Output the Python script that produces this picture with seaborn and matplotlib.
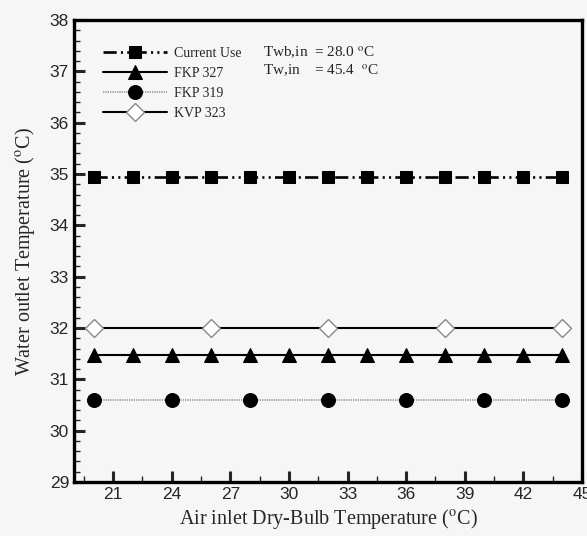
import pandas as pd
import matplotlib
matplotlib.use("Agg")
import matplotlib.pyplot as plt
import seaborn as sns
from matplotlib.ticker import MultipleLocator

# series
current_x = [20, 22, 24, 26, 28, 30, 32, 34, 36, 38, 40, 42, 44]
current_y = [34.95] * 13
fkp327_x = [20, 22, 24, 26, 28, 30, 32, 34, 36, 38, 40, 42, 44]
fkp327_y = [31.47] * 13
fkp319_x = [20, 24, 28, 32, 36, 40, 44]
fkp319_y = [30.6] * 7
kvp323_x = [20, 26, 32, 38, 44]
kvp323_y = [32.0] * 5

labels = ["Current Use", "FKP 327", "FKP 319", "KVP 323"]
x_ticks = [21, 24, 27, 30, 33, 36, 39, 42, 45]
y_ticks = [29, 30, 31, 32, 33, 34, 35, 36, 37, 38]

sns.set_style("ticks")
plt.rcParams["mathtext.fontset"] = "stix"
bg = "#f6f6f6"

fig = plt.figure(figsize=(5.87, 5.36), dpi=100, facecolor=bg)
ax = fig.add_axes([0.126, 0.1007, 0.8655, 0.862])
ax.set_facecolor(bg)

df = pd.DataFrame({"x": current_x, "y": current_y})
sns.lineplot(data=df, x="x", y="y", ax=ax, color="black", lw=1.9,
             linestyle=(0, (5, 1.6, 0.8, 1.6, 0.8, 1.6)),
             marker="s", markersize=9, markeredgecolor="black", label=labels[0])
df = pd.DataFrame({"x": fkp327_x, "y": fkp327_y})
sns.lineplot(data=df, x="x", y="y", ax=ax, color="black", lw=1.5,
             marker="^", markersize=10, markeredgecolor="black", label=labels[1])
df = pd.DataFrame({"x": fkp319_x, "y": fkp319_y})
sns.lineplot(data=df, x="x", y="y", ax=ax, color="#999999", lw=1.2,
             linestyle=(0, (0.8, 0.6)), marker="o", markersize=10,
             markerfacecolor="black", markeredgecolor="black", label=labels[2])
df = pd.DataFrame({"x": kvp323_x, "y": kvp323_y})
sns.lineplot(data=df, x="x", y="y", ax=ax, color="black", lw=1.5,
             marker="D", markersize=9, markerfacecolor="white",
             markeredgecolor="#888888", markeredgewidth=1.0, label=labels[3])

ax.set_xlim(19, 45)
ax.set_ylim(29, 38)
ax.set_xticks(x_ticks)
ax.set_yticks(y_ticks)
ax.xaxis.set_minor_locator(MultipleLocator(1.5))
ax.yaxis.set_minor_locator(MultipleLocator(0.2))
ax.tick_params(which="major", direction="in", length=8, width=2.2, labelsize=12.5,
               top=False, right=False)
ax.tick_params(which="minor", direction="in", length=4, width=1, top=False, right=False)
for lab in ax.get_xticklabels() + ax.get_yticklabels():
    lab.set_family("Liberation Sans")
for sp in ax.spines.values():
    sp.set_linewidth(2.4)
    sp.set_color("black")

ax.set_xlabel(r"Air inlet Dry-Bulb Temperature ($^{\rm o}$C)", family="Liberation Serif",
              fontsize=14.5, labelpad=4)
ax.set_ylabel(r"Water outlet Temperature ($^{\rm o}$C)", family="Liberation Serif",
              fontsize=14.5, labelpad=9)

leg = ax.legend(loc="upper left", bbox_to_anchor=(0.032, 0.968), frameon=False,
                handlelength=4.6, handletextpad=0.5, labelspacing=0.5,
                prop={"family": "Liberation Serif", "size": 10})
ax.text(0.372, 0.928, r"Twb,in  = 28.0 $^{\rm o}$C", transform=ax.transAxes,
        family="Liberation Serif", fontsize=11, va="center")
ax.text(0.372, 0.889, r"Tw,in    = 45.4  $^{\rm o}$C", transform=ax.transAxes,
        family="Liberation Serif", fontsize=11, va="center")

fig.savefig("out.png", dpi=100, facecolor=bg)
